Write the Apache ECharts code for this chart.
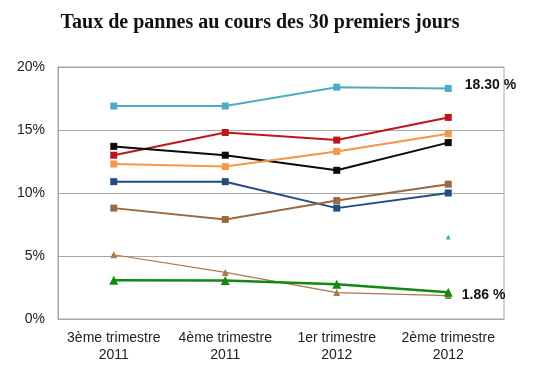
<!DOCTYPE html>
<html><head><meta charset="utf-8">
<script src="https://cdn.jsdelivr.net/npm/echarts@6/dist/echarts.min.js"></script>
<style>html,body{margin:0;padding:0;background:#fff}#c{width:538px;height:379px}</style>
</head><body><div id="c"></div>
<script>
var categories = ['3ème trimestre\n2011', '4ème trimestre\n2011', '1er trimestre\n2012', '2ème trimestre\n2012'];
var yTicks = [0, 5, 10, 15, 20];
var cyanValues = [16.9, 16.9, 18.4, 18.3];
var redValues = [13.0, 14.8, 14.2, 16.0];
var blackValues = [13.7, 13.0, 11.8, 14.0];
var orangeValues = [12.3, 12.1, 13.3, 14.7];
var navyValues = [10.9, 10.9, 8.8, 10.0];
var brownSquareValues = [8.8, 7.9, 9.4, 10.7];
var brownTriValues = [5.1, 3.7, 2.1, 1.86];
var greenValues = [3.07, 3.05, 2.75, 2.12];
var cyanLoneValues = [null, null, null, 6.5];
var endLabels = ['18.30 %', '1.86 %'];

function sq(name, data, color) {
  return {name: name, type: 'line', data: data, symbol: 'rect', symbolSize: 7,
    itemStyle: {color: color}, lineStyle: {color: color, width: 2}, z: 3};
}
function withEndLabel(s, text, dx, dy) {
  s.data = s.data.map(function (v, i) {
    if (i === s.data.length - 1) {
      return {value: v, label: {show: true, position: 'right', distance: dx, offset: [0, dy],
        formatter: text, fontFamily: 'Liberation Sans', fontWeight: 'bold', fontSize: 14, color: '#111'}};
    }
    return v;
  });
  return s;
}
var series = [
  withEndLabel(sq('cyan', cyanValues, '#4bacc6'), endLabels[0], 13, -3),
  sq('red', redValues, '#c0141c'),
  sq('black', blackValues, '#0a0a0a'),
  sq('orange', orangeValues, '#f79646'),
  sq('navy', navyValues, '#1f4e80'),
  sq('brownSq', brownSquareValues, '#9a6a3e'),
  withEndLabel({name: 'brownTri', type: 'line', data: brownTriValues, symbol: 'triangle', symbolSize: 7,
    itemStyle: {color: '#a8784a'}, lineStyle: {color: '#a8784a', width: 1.2}, z: 2}, endLabels[1], 10, 0),
  {name: 'green', type: 'line', data: greenValues, symbol: 'triangle', symbolSize: 9,
    itemStyle: {color: '#108a10'}, lineStyle: {color: '#108a10', width: 2.5}, z: 3},
  {name: 'cyanLone', type: 'line', data: cyanLoneValues, symbol: 'triangle', symbolSize: 5,
    itemStyle: {color: '#4bacc6'}, lineStyle: {width: 0}, z: 3}
];
var chart = echarts.init(document.getElementById('c'), null, {renderer: 'canvas'});
chart.setOption({
  animation: false,
  title: {text: 'Taux de pannes au cours des 30 premiers jours', left: 255, textAlign: 'center', top: 8,
    textStyle: {fontFamily: 'Liberation Serif', fontWeight: 'bold', fontSize: 20, color: '#111'}},
  grid: {left: 58, right: 34, top: 67, bottom: 60, show: true, borderColor: '#a6a6a6', borderWidth: 1},
  xAxis: {type: 'category', data: categories, boundaryGap: true,
    axisLine: {lineStyle: {color: '#a6a6a6'}}, axisTick: {show: false},
    axisLabel: {interval: 0, fontFamily: 'Liberation Sans', fontSize: 14, color: '#222', lineHeight: 17, margin: 11}},
  yAxis: {type: 'value', min: yTicks[0], max: yTicks[yTicks.length - 1], interval: 5,
    axisLine: {show: true, lineStyle: {color: '#a6a6a6'}}, axisTick: {show: false},
    splitLine: {lineStyle: {color: '#a6a6a6'}},
    axisLabel: {formatter: '{value}%', fontFamily: 'Liberation Sans', fontSize: 14, color: '#222', margin: 13}},
  series: series
});
</script></body></html>
